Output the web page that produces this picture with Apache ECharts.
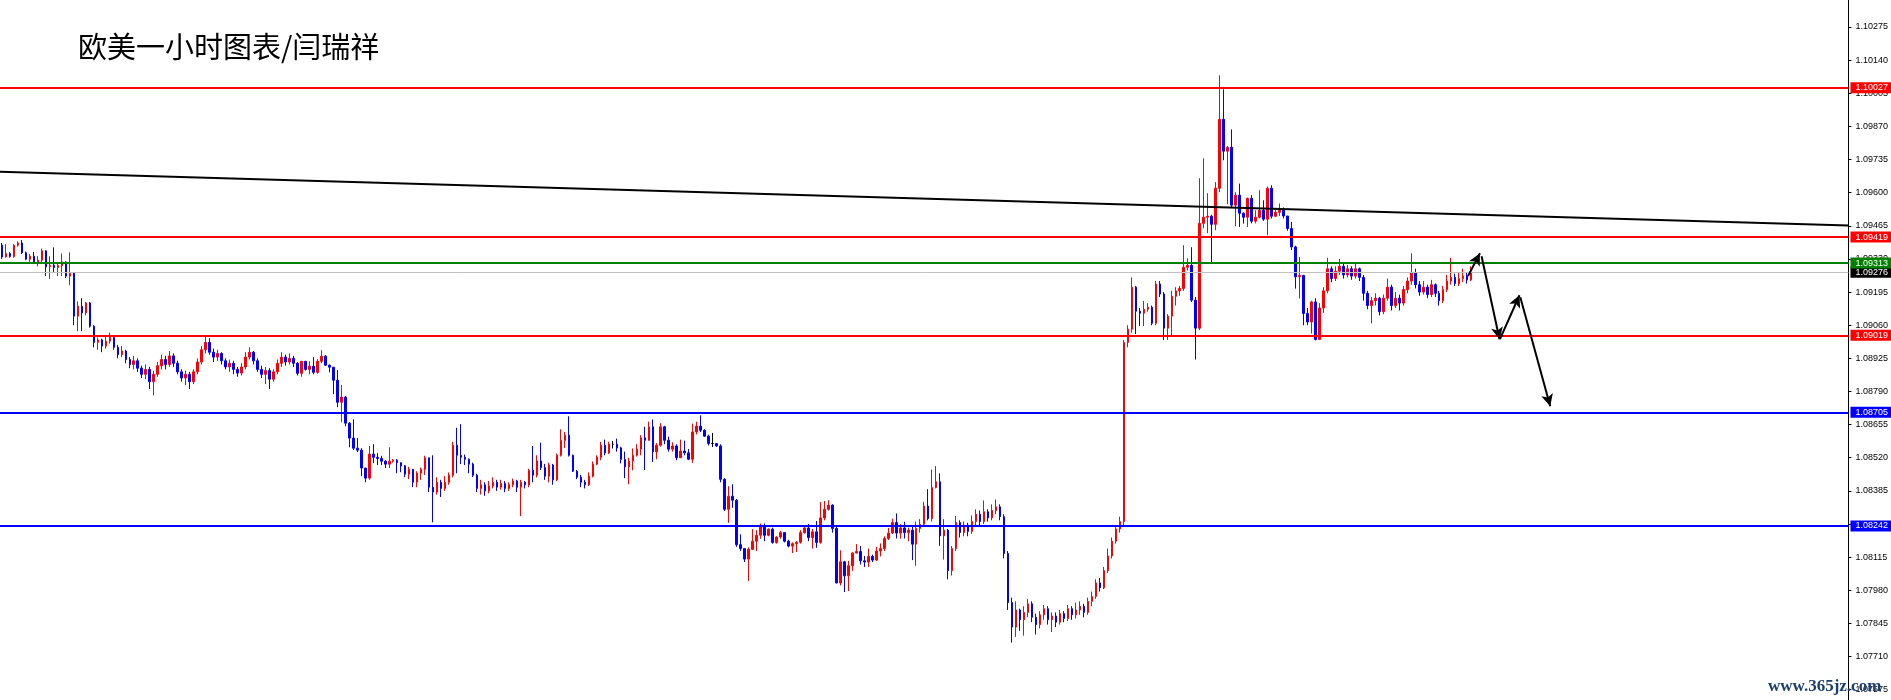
<!DOCTYPE html>
<html><head><meta charset="utf-8">
<script src="https://cdn.jsdelivr.net/npm/echarts@6/dist/echarts.min.js"></script>
<style>html,body{margin:0;padding:0;background:#fff}#c{width:1891px;height:700px}</style>
</head><body><div id="c"></div>
<script>
const titleText = '欧美一小时图表/闫瑞祥';
const watermark = 'www.365jz.com';
const firstOpen = 1.09386;
const closes = [
1.09338,1.09352,1.09340,1.09386,1.09395,1.09355,1.09329,1.09341,1.09318,1.09325,
1.09363,1.09298,1.09304,1.09295,1.09303,1.09318,1.09260,1.09272,1.09097,1.09137,
1.09110,1.09151,1.09056,1.08990,1.09000,1.08975,1.08995,1.09010,1.08970,1.08940,
1.08955,1.08920,1.08900,1.08915,1.08885,1.08860,1.08880,1.08830,1.08860,1.08895,
1.08920,1.08900,1.08935,1.08905,1.08870,1.08845,1.08860,1.08830,1.08870,1.08910,
1.08960,1.08990,1.08950,1.08930,1.08945,1.08915,1.08890,1.08905,1.08880,1.08865,
1.08890,1.08930,1.08950,1.08915,1.08880,1.08860,1.08875,1.08840,1.08870,1.08905,
1.08930,1.08910,1.08925,1.08905,1.08864,1.08913,1.08880,1.08893,1.08868,1.08913,
1.08934,1.08897,1.08889,1.08836,1.08746,1.08767,1.08661,1.08600,1.08559,1.08551,
1.08478,1.08437,1.08535,1.08522,1.08517,1.08506,1.08494,1.08506,1.08510,1.08500,
1.08487,1.08453,1.08473,1.08420,1.08457,1.08473,1.08520,1.08400,1.08380,1.08420,
1.08395,1.08420,1.08449,1.08571,1.08530,1.08522,1.08514,1.08494,1.08449,1.08395,
1.08410,1.08385,1.08405,1.08420,1.08400,1.08415,1.08395,1.08410,1.08425,1.08400,
1.08420,1.08410,1.08469,1.08449,1.08507,1.08480,1.08445,1.08490,1.08430,1.08530,
1.08591,1.08612,1.08530,1.08465,1.08441,1.08420,1.08410,1.08445,1.08494,1.08522,
1.08571,1.08540,1.08575,1.08575,1.08560,1.08513,1.08483,1.08506,1.08530,1.08555,
1.08601,1.08591,1.08646,1.08544,1.08571,1.08646,1.08591,1.08555,1.08568,1.08520,
1.08547,1.08540,1.08514,1.08625,1.08649,1.08632,1.08608,1.08578,1.08578,1.08568,
1.08432,1.08310,1.08363,1.08347,1.08166,1.08150,1.08107,1.08147,1.08180,1.08204,
1.08242,1.08204,1.08229,1.08175,1.08197,1.08215,1.08180,1.08160,1.08170,1.08176,
1.08215,1.08234,1.08195,1.08218,1.08175,1.08275,1.08310,1.08327,1.08232,1.08010,
1.08096,1.08039,1.08080,1.08132,1.08138,1.08100,1.08095,1.08118,1.08103,1.08140,
1.08150,1.08191,1.08213,1.08256,1.08213,1.08234,1.08215,1.08225,1.08168,1.08232,
1.08249,1.08323,1.08272,1.08399,1.08422,1.08202,1.08225,1.08060,1.08150,1.08256,
1.08215,1.08245,1.08220,1.08260,1.08290,1.08260,1.08300,1.08275,1.08305,1.08320,
1.08280,1.08130,1.07930,1.07830,1.07900,1.07860,1.07890,1.07925,1.07870,1.07840,
1.07880,1.07905,1.07860,1.07875,1.07850,1.07885,1.07865,1.07905,1.07880,1.07900,
1.07915,1.07890,1.07935,1.07955,1.08010,1.07990,1.08060,1.08120,1.08180,1.08230,
1.08260,1.08990,1.09044,1.09215,1.09117,1.09109,1.09125,1.09133,1.09068,1.09228,
1.09187,1.09048,1.09097,1.09178,1.09200,1.09210,1.09296,1.09304,1.09162,1.09048,
1.09475,1.09500,1.09504,1.09471,1.09618,1.09899,1.09769,1.09785,1.09549,1.09590,
1.09516,1.09500,1.09577,1.09484,1.09500,1.09528,1.09492,1.09618,1.09504,1.09520,
1.09528,1.09505,1.09454,1.09379,1.09257,1.09263,1.09108,1.09073,1.09155,1.09002,
1.09130,1.09200,1.09290,1.09250,1.09280,1.09300,1.09265,1.09290,1.09260,1.09290,
1.09255,1.09190,1.09140,1.09160,1.09170,1.09115,1.09170,1.09215,1.09140,1.09170,
1.09150,1.09205,1.09240,1.09275,1.09225,1.09195,1.09215,1.09185,1.09225,1.09190,
1.09160,1.09205,1.09240,1.09255,1.09230,1.09250,1.09260,1.09245,1.09276
];
const highs = [
1.09395,1.09390,1.09357,1.09390,1.09402,1.09407,1.09360,1.09350,1.09359,1.09341,
1.09372,1.09365,1.09341,1.09377,1.09313,1.09352,1.09320,1.09357,1.09275,1.09157,
1.09170,1.09155,1.09155,1.09060,1.09010,1.09005,1.09015,1.09030,1.09007,1.08980,
1.08975,1.08960,1.08930,1.08935,1.08925,1.08895,1.08900,1.08890,1.08875,1.08910,
1.08940,1.08935,1.08955,1.08945,1.08915,1.08880,1.08875,1.08870,1.08880,1.08925,
1.08975,1.09020,1.09007,1.08965,1.08960,1.08950,1.08925,1.08920,1.08915,1.08890,
1.08905,1.08950,1.08970,1.08955,1.08925,1.08895,1.08890,1.08885,1.08880,1.08920,
1.08950,1.08940,1.08945,1.08935,1.08910,1.08913,1.08905,1.08913,1.08930,1.08922,
1.08958,1.08938,1.08900,1.08889,1.08877,1.08816,1.08771,1.08665,1.08677,1.08600,
1.08559,1.08478,1.08568,1.08575,1.08539,1.08528,1.08510,1.08563,1.08515,1.08515,
1.08500,1.08490,1.08483,1.08473,1.08465,1.08480,1.08528,1.08520,1.08530,1.08440,
1.08430,1.08445,1.08460,1.08585,1.08642,1.08657,1.08533,1.08517,1.08500,1.08455,
1.08430,1.08420,1.08425,1.08440,1.08430,1.08430,1.08425,1.08420,1.08435,1.08430,
1.08430,1.08425,1.08475,1.08568,1.08530,1.08581,1.08495,1.08500,1.08495,1.08537,
1.08636,1.08625,1.08689,1.08533,1.08470,1.08450,1.08430,1.08460,1.08505,1.08530,
1.08585,1.08594,1.08585,1.08588,1.08598,1.08565,1.08545,1.08520,1.08558,1.08575,
1.08612,1.08646,1.08667,1.08676,1.08580,1.08661,1.08650,1.08606,1.08583,1.08575,
1.08594,1.08590,1.08556,1.08659,1.08667,1.08693,1.08636,1.08614,1.08621,1.08578,
1.08575,1.08437,1.08404,1.08412,1.08352,1.08208,1.08152,1.08155,1.08229,1.08225,
1.08252,1.08252,1.08232,1.08235,1.08200,1.08222,1.08215,1.08186,1.08175,1.08180,
1.08225,1.08245,1.08250,1.08230,1.08262,1.08340,1.08344,1.08347,1.08330,1.08245,
1.08143,1.08100,1.08100,1.08135,1.08168,1.08160,1.08120,1.08150,1.08125,1.08157,
1.08171,1.08200,1.08234,1.08272,1.08293,1.08250,1.08259,1.08235,1.08240,1.08260,
1.08270,1.08340,1.08392,1.08472,1.08486,1.08456,1.08270,1.08230,1.08160,1.08283,
1.08265,1.08260,1.08255,1.08285,1.08310,1.08305,1.08346,1.08310,1.08330,1.08350,
1.08330,1.08290,1.08140,1.07950,1.07935,1.07905,1.07915,1.07945,1.07935,1.07885,
1.07895,1.07920,1.07915,1.07890,1.07890,1.07900,1.07895,1.07920,1.07915,1.07930,
1.07935,1.07925,1.07950,1.07975,1.08025,1.08030,1.08075,1.08150,1.08195,1.08245,
1.08280,1.09000,1.09060,1.09255,1.09220,1.09130,1.09159,1.09150,1.09140,1.09240,
1.09240,1.09195,1.09105,1.09200,1.09215,1.09220,1.09386,1.09333,1.09378,1.09175,
1.09659,1.09740,1.09598,1.09510,1.09643,1.10078,1.10021,1.09790,1.09858,1.09602,
1.09637,1.09520,1.09580,1.09590,1.09528,1.09610,1.09569,1.09625,1.09630,1.09532,
1.09556,1.09540,1.09505,1.09481,1.09384,1.09338,1.09265,1.09130,1.09160,1.09170,
1.09150,1.09215,1.09335,1.09300,1.09300,1.09330,1.09310,1.09305,1.09300,1.09314,
1.09295,1.09265,1.09200,1.09175,1.09190,1.09175,1.09185,1.09250,1.09225,1.09195,
1.09185,1.09220,1.09255,1.09353,1.09290,1.09240,1.09240,1.09225,1.09245,1.09230,
1.09200,1.09220,1.09265,1.09335,1.09270,1.09275,1.09290,1.09275,1.09300
];
const lows = [
1.09330,1.09336,1.09335,1.09335,1.09380,1.09350,1.09325,1.09318,1.09312,1.09300,
1.09318,1.09260,1.09249,1.09277,1.09260,1.09260,1.09252,1.09223,1.09060,1.09036,
1.09036,1.09100,1.09050,1.08970,1.08960,1.08950,1.08965,1.08985,1.08960,1.08925,
1.08930,1.08905,1.08885,1.08880,1.08870,1.08845,1.08840,1.08800,1.08775,1.08850,
1.08880,1.08880,1.08890,1.08890,1.08860,1.08830,1.08815,1.08800,1.08820,1.08860,
1.08900,1.08945,1.08940,1.08910,1.08915,1.08900,1.08880,1.08870,1.08860,1.08850,
1.08855,1.08880,1.08920,1.08900,1.08870,1.08845,1.08820,1.08800,1.08830,1.08860,
1.08890,1.08895,1.08900,1.08890,1.08855,1.08850,1.08875,1.08860,1.08860,1.08862,
1.08905,1.08895,1.08868,1.08779,1.08726,1.08665,1.08648,1.08563,1.08551,1.08543,
1.08445,1.08420,1.08430,1.08498,1.08490,1.08490,1.08478,1.08478,1.08500,1.08457,
1.08461,1.08441,1.08433,1.08400,1.08400,1.08430,1.08450,1.08380,1.08257,1.08370,
1.08360,1.08385,1.08410,1.08440,1.08457,1.08494,1.08490,1.08457,1.08441,1.08380,
1.08370,1.08365,1.08375,1.08395,1.08385,1.08390,1.08380,1.08385,1.08400,1.08380,
1.08282,1.08395,1.08400,1.08420,1.08440,1.08470,1.08430,1.08420,1.08410,1.08425,
1.08525,1.08560,1.08525,1.08462,1.08433,1.08400,1.08395,1.08405,1.08440,1.08490,
1.08510,1.08530,1.08535,1.08558,1.08545,1.08497,1.08437,1.08412,1.08469,1.08525,
1.08530,1.08470,1.08590,1.08503,1.08514,1.08565,1.08575,1.08545,1.08545,1.08510,
1.08520,1.08530,1.08510,1.08499,1.08615,1.08625,1.08605,1.08570,1.08564,1.08565,
1.08420,1.08303,1.08255,1.08316,1.08157,1.08140,1.08095,1.08018,1.08145,1.08140,
1.08190,1.08180,1.08200,1.08170,1.08170,1.08190,1.08175,1.08155,1.08132,1.08136,
1.08170,1.08210,1.08180,1.08150,1.08153,1.08170,1.08265,1.08305,1.08215,1.08008,
1.08000,1.07973,1.07977,1.08059,1.08130,1.08085,1.08075,1.08075,1.08095,1.08100,
1.08118,1.08140,1.08185,1.08210,1.08191,1.08190,1.08191,1.08180,1.08103,1.08080,
1.08215,1.08240,1.08265,1.08260,1.08395,1.08161,1.08105,1.08025,1.08040,1.08140,
1.08195,1.08200,1.08200,1.08210,1.08245,1.08240,1.08250,1.08260,1.08265,1.08290,
1.08265,1.08110,1.07900,1.07767,1.07790,1.07815,1.07795,1.07870,1.07850,1.07800,
1.07825,1.07860,1.07840,1.07810,1.07830,1.07840,1.07850,1.07855,1.07860,1.07865,
1.07880,1.07870,1.07880,1.07915,1.07945,1.07975,1.07985,1.08050,1.08110,1.08170,
1.08215,1.08245,1.08970,1.09030,1.09024,1.09057,1.09057,1.09115,1.09060,1.09060,
1.09175,1.09000,1.09000,1.09020,1.09140,1.09180,1.09200,1.09283,1.09155,1.08920,
1.09040,1.09455,1.09435,1.09317,1.09447,1.09602,1.09732,1.09553,1.09540,1.09463,
1.09460,1.09474,1.09460,1.09475,1.09475,1.09495,1.09485,1.09427,1.09495,1.09500,
1.09505,1.09495,1.09445,1.09366,1.09209,1.09169,1.09060,1.09060,1.09026,1.08998,
1.09030,1.09110,1.09190,1.09235,1.09240,1.09265,1.09250,1.09255,1.09245,1.09250,
1.09240,1.09160,1.09125,1.09068,1.09140,1.09100,1.09105,1.09160,1.09120,1.09130,
1.09120,1.09140,1.09190,1.09225,1.09210,1.09180,1.09185,1.09170,1.09175,1.09175,
1.09140,1.09150,1.09195,1.09225,1.09220,1.09220,1.09235,1.09230,1.09240
];
const slotCount = 463;
const yTicks = [1.10275,1.10140,1.10005,1.09870,1.09735,1.09600,1.09465,1.09330,1.09195,1.09060,
  1.08925,1.08790,1.08655,1.08520,1.08385,1.08250,1.08115,1.07980,1.07845,1.07710,1.07575];
const levelPrices = [1.10027, 1.09419, 1.09313, 1.09019, 1.08705, 1.08242];
const levelColors = ['#ff0000', '#ff0000', '#008000', '#ff0000', '#0000ff', '#0000ff'];
const lastPrice = 1.09276;
const trendLine = [[-0.5, 1.09685], [462.5, 1.09466]];
const arrowSegments = [
  [[367.2, 1.09260], [370.2, 1.09353]],
  [[370.6, 1.09341], [375.1, 1.09003]],
  [[375.2, 1.09003], [380.1, 1.09182]],
  [[380.3, 1.09174], [387.8, 1.08730]]
];

const categories = Array.from({length: slotCount}, (_, i) => String(i));
const candleData = closes.map((c, i) => {
  const o = i === 0 ? firstOpen : closes[i - 1];
  return [o, c, Math.min(lows[i], o, c), Math.max(highs[i], o, c)];
});

const labelBase = {
  show: true, position: 'end', distance: 2, color: '#fff',
  fontSize: 9, fontFamily: '"Liberation Sans", Arial, sans-serif',
  padding: [1, 3, 0, 5], lineHeight: 10
};
const levelLines = [{
  yAxis: lastPrice,
  lineStyle: {color: '#c0c0c0', width: 1, type: 'solid'},
  label: Object.assign({}, labelBase, {formatter: lastPrice.toFixed(5), backgroundColor: '#000'})
}].concat(levelPrices.map((v, k) => ({
  yAxis: v,
  lineStyle: {color: levelColors[k], width: 2, type: 'solid'},
  label: Object.assign({}, labelBase, {formatter: v.toFixed(5), backgroundColor: levelColors[k]})
})));

const chart = echarts.init(document.getElementById('c'), null, {renderer: 'canvas'});
chart.setOption({
  animation: false,
  backgroundColor: '#ffffff',
  title: {
    text: titleText, left: 78, top: 32, padding: 0,
    textStyle: {fontFamily: '"Noto Sans CJK SC"', fontSize: 29, fontWeight: 'normal', color: '#000'}
  },
  grid: {left: -1.5, right: 40.5, top: 0, bottom: 0},
  xAxis: [
    {type: 'category', data: categories, show: false, boundaryGap: true},
    {type: 'value', min: -0.5, max: 462.5, show: false}
  ],
  yAxis: {
    type: 'value', position: 'right', min: 1.07533, max: 1.10385,
    axisLine: {show: true, onZero: false, lineStyle: {color: '#000', width: 1}},
    axisTick: {show: true, length: 3, customValues: yTicks, lineStyle: {color: '#000'}},
    axisLabel: {
      customValues: yTicks, formatter: v => v.toFixed(5), color: '#000',
      fontSize: 9, fontFamily: '"Liberation Sans", Arial, sans-serif', margin: 7
    },
    splitLine: {show: false}
  },
  graphic: [{
    type: 'text', left: 1768, top: 678, z: 100,
    style: {text: watermark, font: 'bold 17px "Liberation Serif"', fill: '#1c3f73'}
  }],
  series: [
    {
      type: 'candlestick', data: candleData, barWidth: 2, z: 2,
      itemStyle: {
        color: '#ff0000', color0: '#0000ff', borderColor: '#ff0000', borderColor0: '#0000ff',
        borderColorDoji: '#000000', borderWidth: 1
      },
      markLine: {silent: true, precision: 5, symbol: ['none', 'none'], animation: false, z: 5, data: levelLines}
    },
    {
      type: 'line', xAxisIndex: 1, data: trendLine, symbol: 'none', z: 6,
      lineStyle: {color: '#000', width: 2},
      markLine: {
        silent: true, precision: 5, animation: false, symbol: ['none', 'arrow'], symbolSize: [9, 12],
        lineStyle: {color: '#000', width: 2, type: 'solid'}, label: {show: false},
        data: arrowSegments.map(s => [{coord: s[0]}, {coord: s[1]}])
      }
    }
  ]
});
</script></body></html>
